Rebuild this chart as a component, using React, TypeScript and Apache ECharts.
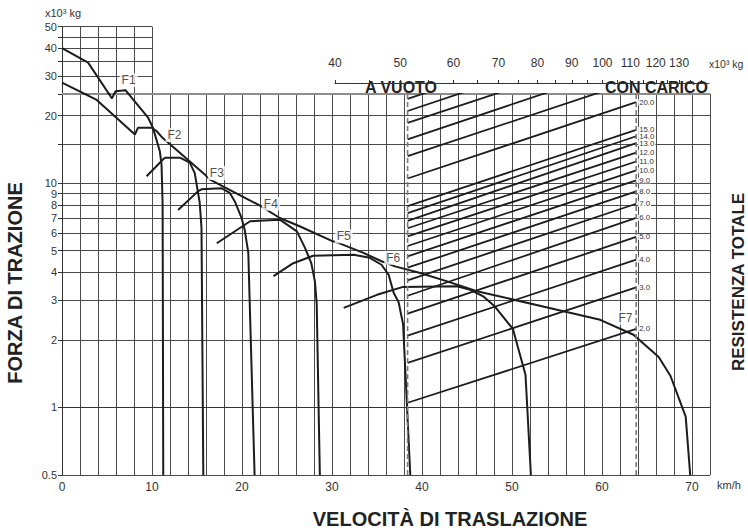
import { useEffect, useRef } from 'react';
import * as echarts from 'echarts';

// ---- tick / label values ----
const speedLabels = [0, 10, 20, 30, 40, 50, 60, 70];
const forceGridLower = [0.5, 1, 2, 3, 4, 5, 6, 7, 8, 9, 10, 15, 20, 25];
const forceLabelsLower = [0.5, 1, 2, 3, 4, 5, 6, 7, 8, 9, 10, 20];
const forceGridUpper = [25, 30, 35, 40, 45, 50];
const forceLabelsUpper = [30, 40, 50];
const weightTicks = [40, 45, 50, 55, 60, 65, 70, 75, 80, 85, 90, 95, 100, 105, 110, 115, 120, 125, 130, 135, 140];
const weightLabels = [40, 50, 60, 70, 80, 90, 100, 110, 120, 130];

// ---- traction curves: [speed km/h, force x10^3 kg] ----
const gearF1 = [[0, 40], [2.9, 34.5], [5.55, 23.9], [5.95, 25.7], [7.05, 26], [9.57, 19.6], [10.1, 17.7], [10.87, 13.9], [11.06, 12.1], [11.18, 8], [11.25, 0.5]];
const gearF2 = [[9.4, 10.75], [11.25, 12.8], [11.45, 13.0], [13.1, 13.0], [14.2, 12.35], [14.75, 11.1], [15.3, 8.2], [15.5, 6.3], [15.7, 0.5]];
const gearF3 = [[12.9, 7.6], [15.1, 9.2], [15.5, 9.4], [17.7, 9.5], [18.65, 9.05], [19.2, 8.3], [19.95, 7.0], [20.3, 6.2], [20.7, 4.9], [20.85, 3], [21.4, 0.5]];
const gearF4 = [[17.2, 5.4], [20.9, 6.77], [24.2, 6.88], [26.1, 6.1], [27.0, 5.15], [27.7, 4.4], [28.1, 3.65], [28.3, 2.9], [28.65, 0.5]];
const gearF5 = [[23.5, 3.85], [25.7, 4.4], [27.9, 4.75], [32.4, 4.8], [34.2, 4.65], [35.5, 4.33], [36.3, 3.9], [36.85, 3.25], [37.4, 2.95], [37.9, 2.35], [38.7, 0.5]];
const gearF6 = [[31.3, 2.78], [35, 3.18], [37.9, 3.45], [43.9, 3.47], [45.35, 3.35], [46.8, 3.13], [48.1, 2.82], [50.1, 2.24], [51.5, 1.4], [52.1, 0.5]];
const envelope = [[0, 28.1], [3.8, 23.6], [8.1, 16.5], [8.45, 17.7], [9.95, 17.7], [10.5, 17.1], [11.2, 15.9], [15.9, 10.9], [16.4, 10.4], [22, 7.95], [24.2, 7.0], [26.4, 6.43], [30.1, 5.51], [30.7, 5.42], [33.5, 4.89], [35.5, 4.49], [37, 4.26], [39.8, 3.98], [42.8, 3.65], [46.1, 3.3], [55, 2.73], [59.8, 2.46], [63.5, 2.11], [66.3, 1.68], [67.6, 1.385], [69.3, 0.91], [69.8, 0.5]];

// ---- gear labels ----
const gearNames = ['F1', 'F2', 'F3', 'F4', 'F5', 'F6', 'F7'];
const gearLabelSpeed = [7.4, 12.5, 17.2, 23.2, 31.3, 36.8, 62.6];
const gearLabelForce = [28.8, 16.4, 11.1, 8.1, 5.8, 4.65, 2.51];

// ---- total resistance lines (grade %) ----
const grades = [2, 3, 4, 5, 6, 7, 8, 9, 10, 11, 12, 13, 14, 15, 20, 25, 30, 35, 40, 45];
const resistanceEmpty = [1.05, 1.58, 2.09, 2.62, 3.15, 3.69, 4.2, 4.72, 5.25, 5.8, 6.3, 6.8, 7.35, 7.9, 10.5, 13.2, 15.7, 18.6, 21, 23.8];
const resistanceLoaded = [2.24, 3.43, 4.56, 5.76, 7.0, 8.1, 9.2, 10.3, 11.4, 12.5, 13.7, 15.1, 16.2, 17.3, 23.0, 28.8, 34.5, 40.3, 46, 51.8];
const emptySpeedMark = 38.4; // "A VUOTO" dashed line
const loadedSpeedMark = 63.8; // "CON CARICO" dashed line

const FONT = 'Liberation Sans, Arial, Helvetica, sans-serif';
const lg = (v: number) => Math.log10(v);
const toXY = (pts: number[][]) => pts.map(([x, v]) => [x, lg(v)]);
const fmtForce = (v: number) => {
  const n = Math.pow(10, v);
  return n < 1 ? n.toFixed(1) : String(Math.round(n));
};

export default function App() {
  const ref = useRef<HTMLDivElement>(null);
  useEffect(() => {
    if (!ref.current) return;
    const chart = echarts.init(ref.current, null, { renderer: 'svg' });
    const curveStyle = { color: '#1c1c1c', width: 2 };
    const gridLine = { color: '#4a4a4a', width: 1 };

    const curve = (name: string, pts: number[][], g: number) => ({
      type: 'line', name, xAxisIndex: g, yAxisIndex: g, data: toXY(pts),
      showSymbol: false, symbol: 'none', lineStyle: curveStyle, silent: true, z: 3,
    });

    const series: any[] = [];
    series.push(curve('F1a', gearF1, 0));
    series.push(curve('envA', envelope, 0));
    [gearF1, gearF2, gearF3, gearF4, gearF5, gearF6].forEach((g, i) => series.push(curve('F' + (i + 1), g, 1)));
    series.push(curve('env', envelope, 1));

    grades.forEach((g, i) => {
      const line: any = {
        type: 'line', xAxisIndex: 1, yAxisIndex: 1, silent: true, z: 3,
        showSymbol: false, symbol: 'none',
        data: [[emptySpeedMark, lg(resistanceEmpty[i])], [loadedSpeedMark, lg(resistanceLoaded[i])]],
        lineStyle: { color: '#1c1c1c', width: 1.8 },
      };
      if (g <= 20) {
        line.endLabel = {
          show: true, formatter: g.toFixed(1), fontSize: 7.8, lineHeight: 6, color: '#333', fontFamily: FONT,
          backgroundColor: '#fff', padding: [0, 1], distance: 2,
        };
      }
      series.push(line);
    });

    [emptySpeedMark, loadedSpeedMark].forEach((s) => {
      series.push({
        type: 'line', xAxisIndex: 1, yAxisIndex: 1, silent: true, z: 4,
        showSymbol: false, symbol: 'none',
        data: [[s, lg(0.5)], [s, lg(25)]],
        lineStyle: { color: '#7a7a7a', width: 1.6, type: [5, 3] },
      });
    });

    series.push({
      type: 'line', xAxisIndex: 1, yAxisIndex: 1, silent: true, z: 2,
      showSymbol: false, symbol: 'none',
      data: [[0, lg(25)], [72, lg(25)]],
      lineStyle: { color: '#8c8c8c', width: 2 },
    });

    gearNames.forEach((n, i) => {
      const upper = gearLabelForce[i] > 25;
      series.push({
        type: 'scatter', xAxisIndex: upper ? 0 : 1, yAxisIndex: upper ? 0 : 1, silent: true, z: 10,
        symbolSize: 1, itemStyle: { color: 'rgba(0,0,0,0)' },
        data: [[gearLabelSpeed[i], lg(gearLabelForce[i])]],
        label: {
          show: true, position: 'inside', formatter: n, fontSize: 12, color: '#222', fontFamily: FONT,
          backgroundColor: '#fff', padding: [1, 2],
        },
      });
    });

    const yLabel = { formatter: fmtForce, color: '#333', fontSize: 11, lineHeight: 9, margin: 5, fontFamily: FONT };

    const baseGraphic: any[] = [
      { type: 'text', left: 45, top: 7, style: { text: 'x10³ kg', fontSize: 11, fill: '#333', fontFamily: FONT } },
      { type: 'text', left: 709, top: 58, style: { text: 'x10³ kg', fontSize: 10.5, fill: '#333', fontFamily: FONT } },
      { type: 'text', left: 717, top: 479, style: { text: 'km/h', fontSize: 11, fill: '#333', fontFamily: FONT } },
      { type: 'text', x: 401, y: 87, style: { text: 'A VUOTO', fontSize: 16, fontWeight: 'bold', fill: '#222', fontFamily: FONT, align: 'center', verticalAlign: 'middle' } },
      { type: 'text', x: 708, y: 87, style: { text: 'CON CARICO', fontSize: 16, fontWeight: 'bold', fill: '#222', fontFamily: FONT, align: 'right', verticalAlign: 'middle' } },
      { type: 'text', x: 15, y: 283, rotation: Math.PI / 2, style: { text: 'FORZA DI TRAZIONE', fontSize: 20, fontWeight: 'bold', fill: '#222', fontFamily: FONT, align: 'center', verticalAlign: 'middle' } },
      { type: 'text', x: 738, y: 282, rotation: Math.PI / 2, style: { text: 'RESISTENZA TOTALE', fontSize: 17, fontWeight: 'bold', fill: '#222', fontFamily: FONT, align: 'center', verticalAlign: 'middle' } },
      { type: 'text', x: 450, y: 519, style: { text: 'VELOCITÀ DI TRASLAZIONE', fontSize: 20, fontWeight: 'bold', fill: '#222', fontFamily: FONT, align: 'center', verticalAlign: 'middle' } },
    ];

    const option: any = {
      animation: false,
      backgroundColor: '#fff',
      textStyle: { fontFamily: FONT },
      grid: [
        { left: 62, top: 26.5, width: 90, height: 67.5 },
        { left: 62, top: 94, width: 648, height: 381 },
        { left: 335, top: 73, width: 374, height: 10 },
      ],
      xAxis: [
        {
          gridIndex: 0, type: 'value', min: 0, max: 10, interval: 2,
          axisLine: { show: false }, axisTick: { show: false }, axisLabel: { show: false },
          splitLine: { show: true, lineStyle: gridLine },
        },
        {
          gridIndex: 1, type: 'value', min: 0, max: 72, interval: 2,
          axisLine: { show: true, lineStyle: { color: '#333', width: 1 } },
          axisTick: { show: false },
          axisLabel: { customValues: speedLabels, color: '#333', fontSize: 12, margin: 6, fontFamily: FONT },
          splitLine: { show: true, lineStyle: gridLine },
        },
        {
          gridIndex: 2, type: 'value', position: 'top', min: lg(40), max: lg(144),
          axisLine: { show: true, lineStyle: { color: '#333', width: 1 } },
          axisTick: { show: true, customValues: weightTicks.map(lg), length: 3, lineStyle: { color: '#333' } },
          axisLabel: { show: false },
          splitLine: { show: false },
        },
      ],
      yAxis: [
        {
          gridIndex: 0, type: 'value', min: lg(25), max: lg(50),
          axisLine: { show: true, lineStyle: { color: '#333', width: 1 } },
          axisTick: { show: true, customValues: forceGridUpper.map(lg), length: 4, lineStyle: { color: '#333' } },
          axisLabel: { ...yLabel, customValues: forceLabelsUpper.map(lg) },
          splitLine: { show: true, lineStyle: gridLine },
        },
        {
          gridIndex: 1, type: 'value', min: lg(0.5), max: lg(25),
          axisLine: { show: true, lineStyle: { color: '#333', width: 1 } },
          axisTick: { show: true, customValues: forceGridLower.map(lg), length: 4, lineStyle: { color: '#333' } },
          axisLabel: { ...yLabel, customValues: forceLabelsLower.map(lg) },
          splitLine: { show: true, lineStyle: gridLine },
        },
        { gridIndex: 2, type: 'value', min: 0, max: 1, show: false },
      ],
      series,
      graphic: baseGraphic,
    };
    chart.setOption(option);

    // top weight-axis labels, positioned through the weight axis scale
    const weightTexts = weightLabels.map((w) => {
      const p = chart.convertToPixel({ xAxisIndex: 2, yAxisIndex: 2 }, [lg(w), 1]) as number[];
      return {
        type: 'text', x: p[0], y: p[1] - 10, z: 1000, zlevel: 1,
        style: { text: String(w), fontSize: 12, fill: '#333', fontFamily: FONT, align: 'center', verticalAlign: 'middle' },
      };
    });
    chart.setOption({ graphic: [...baseGraphic, ...weightTexts] });
    return () => chart.dispose();
  }, []);
  return <div ref={ref} style={{ position: 'fixed', left: 0, top: 0, width: 748, height: 530, background: '#fff' }} />;
}
